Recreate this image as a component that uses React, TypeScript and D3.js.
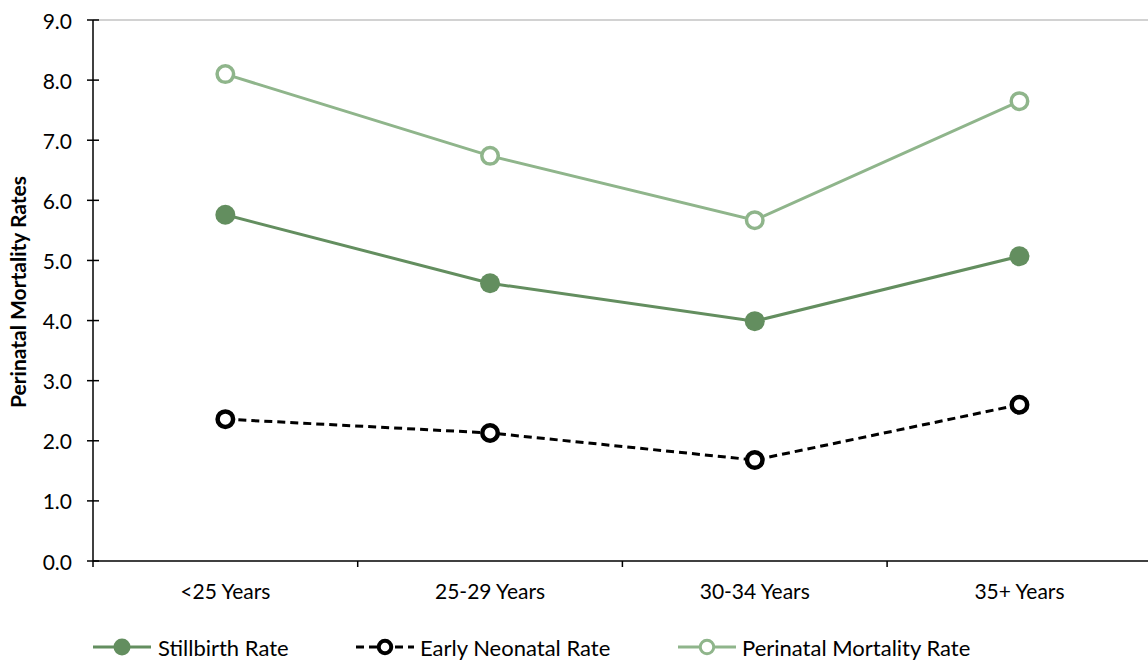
import React from "react";
import * as d3 from "d3";

const categories = ["<25 Years", "25-29 Years", "30-34 Years", "35+ Years"];
const stillbirth = [5.76, 4.62, 3.99, 5.07];
const earlyNeonatal = [2.36, 2.13, 1.68, 2.6];
const perinatal = [8.1, 6.74, 5.67, 7.65];
const yTicks = [0, 1, 2, 3, 4, 5, 6, 7, 8, 9];

const W = 1148, H = 662;
const FONT = "Lato, 'Open Sans', sans-serif";
const C_STILL = "#638e5f";
const C_PERI = "#8fb58b";

export default function App() {
  const x0 = 93, x1 = 93 + 264.7 * 4;
  const x = d3.scaleBand().domain(categories).range([x0, x1]).padding(0);
  const y = d3.scaleLinear().domain([0, 9]).range([561, 20]);
  const cx = (c: string) => (x(c) as number) + x.bandwidth() / 2;
  const line = d3.line<[number, number]>().x((d) => d[0]).y((d) => d[1]);

  const series = [
    { name: "Stillbirth Rate", vals: stillbirth, color: C_STILL, dash: undefined, filled: true, sw: 3.5 },
    { name: "Early Neonatal Rate", vals: earlyNeonatal, color: "#000000", dash: "8,5", filled: false, sw: 4.5 },
    { name: "Perinatal Mortality Rate", vals: perinatal, color: C_PERI, dash: undefined, filled: false, sw: 3.5 },
  ];
  const legendPos = [
    { lx: 93, tx: 158 },
    { lx: 356, tx: 420 },
    { lx: 678, tx: 742 },
  ];

  return (
    <svg width={W} height={H} style={{ position: "absolute", left: 0, top: 0, background: "#fff" }} fontFamily={FONT}>
      <line x1={x0} x2={W} y1={y(9)} y2={y(9)} stroke="#a6a6a6" strokeWidth={1.2} />
      <line x1={x0} x2={x0} y1={y(9)} y2={y(0) + 6} stroke="#000" strokeWidth={1.5} />
      <line x1={x0} x2={W} y1={y(0)} y2={y(0)} stroke="#000" strokeWidth={1.5} />
      {yTicks.map((t) => (
        <g key={t}>
          <line x1={x0 - 6} x2={x0 + 6} y1={y(t)} y2={y(t)} stroke="#000" strokeWidth={1.5} />
          <text x={x0 - 21} y={y(t)} textAnchor="end" dominantBaseline="central" fontSize={21} fill="#000">
            {t.toFixed(1)}
          </text>
        </g>
      ))}
      {categories.map((c, i) => (
        <g key={c}>
          {i > 0 && (
            <line x1={x(c) as number} x2={x(c) as number} y1={y(0)} y2={y(0) + 6} stroke="#000" strokeWidth={1.5} />
          )}
          <text x={cx(c)} y={590} textAnchor="middle" dominantBaseline="central" fontSize={21} fill="#000">
            {c}
          </text>
        </g>
      ))}
      <text
        transform={`translate(17,292) rotate(-90)`}
        textAnchor="middle"
        dominantBaseline="central"
        fontSize={21}
        fontWeight="bold"
        fill="#000"
      >
        Perinatal Mortality Rates
      </text>
      {series.map((s) => {
        const pts: [number, number][] = s.vals.map((v, i) => [cx(categories[i]), y(v)]);
        return (
          <g key={s.name}>
            <path d={line(pts) as string} fill="none" stroke={s.color} strokeWidth={3} strokeDasharray={s.dash} />
            {pts.map((p, i) =>
              s.filled ? (
                <circle key={i} cx={p[0]} cy={p[1]} r={10} fill={s.color} />
              ) : (
                <circle key={i} cx={p[0]} cy={p[1]} r={10 - s.sw / 2} fill="#fff" stroke={s.color} strokeWidth={s.sw} />
              )
            )}
          </g>
        );
      })}
      {series.map((s, i) => {
        const { lx, tx } = legendPos[i];
        const ly = 647;
        const mx = lx + 29;
        return (
          <g key={"lg" + i}>
            <line x1={lx} x2={lx + 58} y1={ly} y2={ly} stroke={s.color} strokeWidth={3} strokeDasharray={s.dash} />
            {s.filled ? (
              <circle cx={mx} cy={ly} r={8.5} fill={s.color} />
            ) : (
              <circle cx={mx} cy={ly} r={8.5 - s.sw / 2} fill="#fff" stroke={s.color} strokeWidth={s.sw - 0.5} />
            )}
            <text x={tx} y={ly} dominantBaseline="central" fontSize={22} fill="#000">
              {s.name}
            </text>
          </g>
        );
      })}
    </svg>
  );
}
